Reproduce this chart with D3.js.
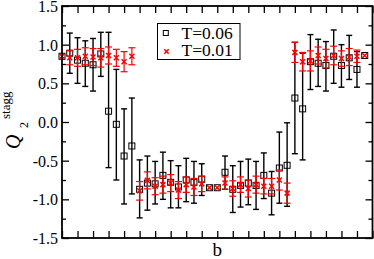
<!DOCTYPE html>
<html><head><meta charset="utf-8">
<script src="https://cdn.jsdelivr.net/npm/d3@7/dist/d3.min.js"></script>
<style>body{margin:0;background:#fff} svg{display:block}</style>
</head><body><svg id="c" width="374" height="259"></svg>
<script>
// ---- data ----
const bValues = [0,1,2,3,4,5,6,7,8,9,10,11,12,13,14,15,16,17,18,19,20,21,22,23,24,25,26,27,28,29,30,31,32,33,34,35,36,37,38,39];
// T=0.06 (black squares), with asymmetric error bar ends
const q06 = [0.85,0.89,0.80,0.76,0.74,0.88,0.14,-0.03,-0.44,-0.31,-0.87,-0.79,-0.80,-0.69,-0.78,-0.84,-0.75,-0.78,-0.74,-0.85,-0.85,-0.65,-0.87,-0.82,-0.79,-0.82,-0.69,-0.92,-0.595,-0.56,0.31,0.17,0.78,0.76,0.73,0.85,0.73,0.83,0.68,0.86];
const q06Top = [0.85,1.15,1.09,1.05,1.08,1.16,1.16,0.68,0.17,0.31,-0.49,-0.44,-0.51,-0.39,-0.50,-0.565,-0.47,-0.51,-0.54,-0.85,-0.85,-0.44,-0.565,-0.51,-0.48,-0.51,-0.40,-0.64,-0.13,-0.01,1.03,0.89,1.13,1.07,1.04,1.19,1.00,1.12,0.91,0.86];
const q06Bottom = [0.85,0.63,0.50,0.46,0.40,0.59,-0.59,-0.75,-1.06,-0.93,-1.24,-1.14,-1.06,-1.00,-1.11,-1.11,-1.03,-1.05,-0.95,-0.85,-0.85,-0.87,-1.17,-1.10,-1.07,-1.13,-0.99,-1.20,-1.05,-1.09,-0.41,-0.49,0.42,0.46,0.40,0.50,0.45,0.55,0.45,0.86];
// T=0.01 (red crosses), symmetric errors
const q01 = [0.85,0.83,0.83,0.85,0.84,0.83,0.86,0.83,0.78,0.85,-0.89,-0.755,-0.83,-0.81,-0.79,-0.88,-0.81,-0.84,-0.80,-0.85,-0.85,-0.79,-0.86,-0.81,-0.86,-0.81,-0.83,-0.83,-0.75,-0.92,0.90,0.78,0.79,0.86,0.82,0.86,0.82,0.84,0.85,0.86];
const q01Err = [0,0.09,0.11,0.11,0.11,0.12,0.11,0.11,0.13,0.11,0.12,0.11,0.11,0.11,0.11,0.11,0.10,0.11,0.10,0,0,0.08,0.10,0.10,0.11,0.11,0.10,0.10,0.13,0.13,0.13,0.12,0.13,0.11,0.12,0.12,0.10,0.11,0.08,0];
const xTicks = [0,2,4,6,8,10,12,14,16,18,20,22,24,26,28,30,32,34,36,38,40];
const yTicks = [-1.5,-1.0,-0.5,0.0,0.5,1.0,1.5];
const yMinorTicks = [-1.25,-0.75,-0.25,0.25,0.75,1.25];
const legendLabels = ["T=0.06","T=0.01"];

// ---- layout ----
const L = 62, R = 372.5, T = 6, B = 238;
const svg = d3.select("#c");
const x = d3.scaleLinear().domain([0,40]).range([L,R]);
const y = d3.scaleLinear().domain([-1.5,1.5]).range([B,T]);
const serif = "'Liberation Serif','DejaVu Serif',serif";

// axes ticks (inward)
const gAx = svg.append("g");
function styleAxis(g){ g.select(".domain").remove(); g.selectAll("line").attr("stroke","#000").attr("stroke-width",1.3); }
gAx.append("g").attr("transform",`translate(0,${B})`)
  .call(d3.axisBottom(x).tickValues(xTicks).tickSizeInner(-7).tickSizeOuter(0).tickFormat("")).call(styleAxis);
gAx.append("g").attr("transform",`translate(0,${T})`)
  .call(d3.axisTop(x).tickValues(xTicks).tickSizeInner(-7).tickSizeOuter(0).tickFormat("")).call(styleAxis);
const yl = gAx.append("g").attr("transform",`translate(${L},0)`)
  .call(d3.axisLeft(y).tickValues(yTicks).tickSizeInner(-7).tickSizeOuter(0).tickPadding(4).tickFormat(d=>d.toFixed(1))).call(styleAxis);
yl.selectAll("text").attr("font-family",serif).attr("font-size",16).attr("fill","#000").attr("dy","0.34em").attr("x",-4);
gAx.append("g").attr("transform",`translate(${L},0)`)
  .call(d3.axisLeft(y).tickValues(yMinorTicks).tickSizeInner(-4).tickSizeOuter(0).tickFormat("")).call(styleAxis);
gAx.append("g").attr("transform",`translate(${R},0)`)
  .call(d3.axisRight(y).tickValues(yTicks).tickSizeInner(-7).tickSizeOuter(0).tickFormat("")).call(styleAxis);
gAx.append("g").attr("transform",`translate(${R},0)`)
  .call(d3.axisRight(y).tickValues(yMinorTicks).tickSizeInner(-4).tickSizeOuter(0).tickFormat("")).call(styleAxis);

// data
const data = bValues.map((b,i)=>({b, v6:q06[i], t6:q06Top[i], b6:q06Bottom[i], v1:q01[i], e1:q01Err[i]}));
const cap = 3;
// black error bars
const gB = svg.append("g").attr("stroke","#000").attr("stroke-width",1.4).attr("fill","none");
data.filter(d=>d.t6!==d.b6).forEach(d=>{
  const cx = x(d.b);
  gB.append("line").attr("x1",cx).attr("x2",cx).attr("y1",y(d.t6)).attr("y2",y(d.b6));
  gB.append("line").attr("x1",cx-cap).attr("x2",cx+cap).attr("y1",y(d.t6)).attr("y2",y(d.t6));
  gB.append("line").attr("x1",cx-cap).attr("x2",cx+cap).attr("y1",y(d.b6)).attr("y2",y(d.b6));
});
const sq = 6;
svg.append("g").selectAll("rect").data(data).join("rect")
  .attr("x",d=>x(d.b)-sq/2).attr("y",d=>y(d.v6)-sq/2).attr("width",sq).attr("height",sq)
  .attr("fill","none").attr("stroke","#000").attr("stroke-width",1);
// red error bars
const gR = svg.append("g").attr("stroke","#ff0000").attr("stroke-width",1.2).attr("fill","none");
data.filter(d=>d.e1>0).forEach(d=>{
  const cx = x(d.b), yt = y(d.v1+d.e1), yb = y(d.v1-d.e1);
  gR.append("line").attr("x1",cx).attr("x2",cx).attr("y1",yt).attr("y2",yb);
  gR.append("line").attr("x1",cx-3.5).attr("x2",cx+3.5).attr("y1",yt).attr("y2",yt);
  gR.append("line").attr("x1",cx-3.5).attr("x2",cx+3.5).attr("y1",yb).attr("y2",yb);
});
const xs = 2.5;
const gX = svg.append("g").attr("stroke","#ff0000").attr("stroke-width",1.5);
data.forEach(d=>{
  const cx = x(d.b), cy = y(d.v1);
  gX.append("path").attr("d",`M${cx-xs},${cy-xs}L${cx+xs},${cy+xs}M${cx-xs},${cy+xs}L${cx+xs},${cy-xs}`);
});

// frame
svg.append("rect").attr("x",L).attr("y",T).attr("width",R-L).attr("height",B-T)
  .attr("fill","none").attr("stroke","#000").attr("stroke-width",1.8);

// legend
const lg = svg.append("g");
lg.append("rect").attr("x",157.5).attr("y",23.5).attr("width",82.5).attr("height",36)
  .attr("fill","#fff").attr("stroke","#000").attr("stroke-width",1);
lg.append("rect").attr("x",163.3).attr("y",30.5).attr("width",5).attr("height",5).attr("fill","none").attr("stroke","#000").attr("stroke-width",1);
const lx = 166.5, ly = 51.5, ls = 2.2;
lg.append("path").attr("d",`M${lx-ls},${ly-ls}L${lx+ls},${ly+ls}M${lx-ls},${ly+ls}L${lx+ls},${ly-ls}`)
  .attr("stroke","#ff0000").attr("stroke-width",1.5);
lg.selectAll("text").data(legendLabels).join("text")
  .attr("x",181.5).attr("y",(d,i)=>39+i*16.5).text(d=>d)
  .attr("font-family",serif).attr("font-size",17.5).attr("fill","#000");

// axis labels
svg.append("text").attr("x",(L+R)/2).attr("y",256).attr("text-anchor","middle")
  .attr("font-family",serif).attr("font-size",19).text("b");
const yg = svg.append("g").attr("transform","translate(19.5,0) rotate(-90)");
yg.append("text").attr("x",-149).attr("y",0).attr("font-family",serif).attr("font-style","italic").attr("font-size",20).text("Q");
yg.append("text").attr("x",-128).attr("y",8).attr("font-family",serif).attr("font-size",12).text("2");
yg.append("text").attr("x",-119).attr("y",-9.5).attr("font-family",serif).attr("font-size",13).text("stagg");
</script></body></html>
